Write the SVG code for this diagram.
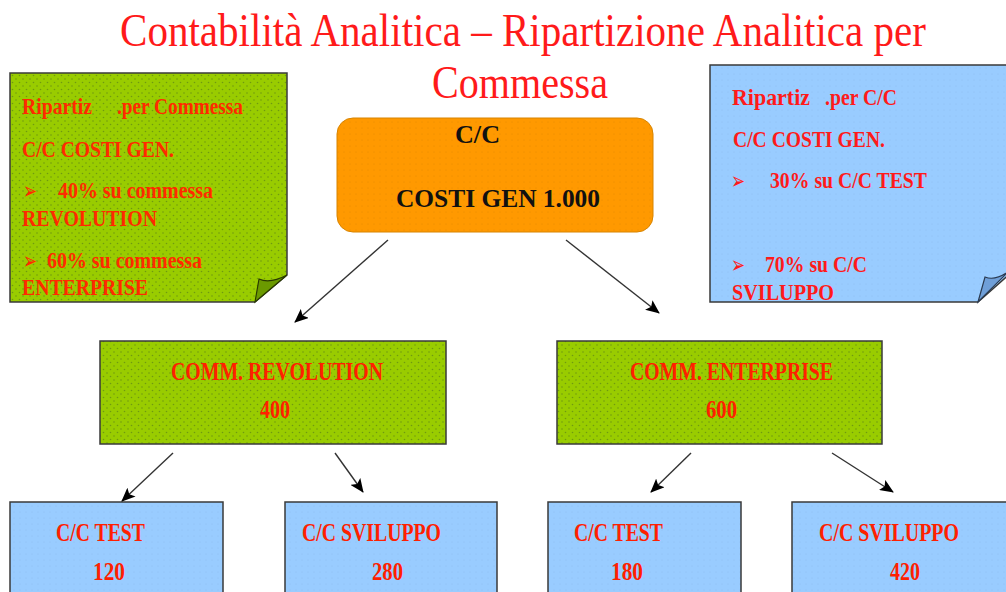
<svg xmlns="http://www.w3.org/2000/svg" width="1006" height="592" viewBox="0 0 1006 592">
<style>
.t{font-family:"Liberation Serif","Times New Roman",serif;}
.title{font-size:38px;fill:#ff1a1a;}
.red{font-size:24px;fill:#ff2a00;font-weight:bold;}
.redb{font-size:24px;fill:#ff1a1a;font-weight:bold;}
.lbl{font-size:25px;fill:#ff2000;font-weight:bold;}
.blk{font-size:26px;fill:#111;font-weight:bold;}
.bul{font-family:"DejaVu Sans",sans-serif;font-size:24px;}
.edge{stroke:#333;stroke-width:1.4;fill:none;marker-end:url(#ah);}
.box{stroke:#3a3a3a;stroke-width:1.5;}
</style>
<defs>
<pattern id="dots" width="7" height="7" patternUnits="userSpaceOnUse">
<rect width="7" height="7" fill="#99cc00"/>
<circle cx="2" cy="2" r="0.8" fill="#6f9a10"/>
<circle cx="5.5" cy="5.5" r="0.8" fill="#6f9a10"/>
</pattern>
<pattern id="bdots" width="6" height="6" patternUnits="userSpaceOnUse">
<rect width="6" height="6" fill="#99ccff"/>
<circle cx="2" cy="2" r="0.6" fill="#8fbdf0"/>
</pattern>
<pattern id="odots" width="6" height="6" patternUnits="userSpaceOnUse">
<rect width="6" height="6" fill="#ff9900"/>
<circle cx="2" cy="2" r="0.6" fill="#e88a00"/>
</pattern>
<marker id="ah" markerWidth="14" markerHeight="12" refX="13" refY="6" orient="auto" markerUnits="userSpaceOnUse">
<path d="M0,0 L14,6 L0,12 L3,6 Z" fill="#000"/>
</marker>
</defs>
<rect width="1006" height="592" fill="#fff"/>

<g id="title">
<text class="t title" transform="translate(120,46) scale(1,1.22)" x="0" y="0" textLength="806" lengthAdjust="spacingAndGlyphs">Contabilità Analitica  – Ripartizione Analitica per</text>
<text class="t title" transform="translate(432,98) scale(1,1.22)" x="0" y="0" textLength="176" lengthAdjust="spacingAndGlyphs">Commessa</text>
</g>

<g id="note-commessa">
<path class="box" d="M10,73 H287 V275 L255,302 H10 Z" fill="url(#dots)"/>
<path d="M255,302 L259,279 Q270,284 287,275 Z" fill="#6b9a00" stroke="#2a3a00" stroke-width="1.2"/>
<text class="t red" x="22" y="114" textLength="70" lengthAdjust="spacingAndGlyphs">Ripartiz</text>
<text class="t red" x="117" y="114" textLength="126" lengthAdjust="spacingAndGlyphs">.per Commessa</text>
<text class="t red" x="22" y="157" textLength="152" lengthAdjust="spacingAndGlyphs">C/C COSTI GEN.</text>
<text class="bul" x="23" y="199" fill="#ff2a00" textLength="14" lengthAdjust="spacingAndGlyphs">➢</text>
<text class="t red" x="58" y="198" textLength="155" lengthAdjust="spacingAndGlyphs">40% su commessa</text>
<text class="t red" x="22" y="226" textLength="135" lengthAdjust="spacingAndGlyphs">REVOLUTION</text>
<text class="bul" x="23" y="269" fill="#ff2a00" textLength="14" lengthAdjust="spacingAndGlyphs">➢</text>
<text class="t red" x="47" y="268" textLength="155" lengthAdjust="spacingAndGlyphs">60% su commessa</text>
<text class="t red" x="22" y="295" textLength="126" lengthAdjust="spacingAndGlyphs">ENTERPRISE</text>
</g>

<g id="note-cc">
<path class="box" d="M710,65 H1012 V272 L978,302 H710 Z" fill="url(#bdots)"/>
<path d="M978,302 L985,277 Q995,281 1008,272 Z" fill="#6f9fd8" stroke="#2a3a50" stroke-width="1.2"/>
<text class="t redb" x="732" y="105" textLength="78" lengthAdjust="spacingAndGlyphs">Ripartiz</text>
<text class="t redb" x="825" y="105" textLength="72" lengthAdjust="spacingAndGlyphs">.per C/C</text>
<text class="t redb" x="733" y="147" textLength="152" lengthAdjust="spacingAndGlyphs">C/C COSTI GEN.</text>
<text class="bul" x="731" y="189" fill="#ff1a1a" textLength="14" lengthAdjust="spacingAndGlyphs">➢</text>
<text class="t redb" x="770" y="188" textLength="157" lengthAdjust="spacingAndGlyphs">30% su C/C TEST</text>
<text class="bul" x="731" y="273" fill="#ff1a1a" textLength="14" lengthAdjust="spacingAndGlyphs">➢</text>
<text class="t redb" x="765" y="272" textLength="102" lengthAdjust="spacingAndGlyphs">70% su C/C</text>
<text class="t redb" x="732" y="300" textLength="102" lengthAdjust="spacingAndGlyphs">SVILUPPO</text>
</g>

<g id="cc-costi-gen">
<rect x="337" y="118" width="316" height="114" rx="16" fill="url(#odots)" stroke="#d88400" stroke-width="1"/>
<text class="t blk" x="455" y="143" textLength="45" lengthAdjust="spacingAndGlyphs">C/C</text>
<text class="t blk" x="396" y="207" textLength="204" lengthAdjust="spacingAndGlyphs">COSTI GEN 1.000</text>
</g>

<g id="comm-revolution">
<rect class="box" x="100" y="341" width="346" height="103" fill="url(#dots)"/>
<text class="t lbl" x="171" y="380" textLength="212" lengthAdjust="spacingAndGlyphs">COMM. REVOLUTION</text>
<text class="t lbl" x="260" y="418" textLength="30" lengthAdjust="spacingAndGlyphs">400</text>
</g>

<g id="comm-enterprise">
<rect class="box" x="557" y="341" width="325" height="103" fill="url(#dots)"/>
<text class="t lbl" x="630" y="380" textLength="203" lengthAdjust="spacingAndGlyphs">COMM. ENTERPRISE</text>
<text class="t lbl" x="706" y="418" textLength="31" lengthAdjust="spacingAndGlyphs">600</text>
</g>

<g id="cc-test-rev">
<rect class="box" x="10" y="502" width="213" height="100" fill="url(#bdots)"/>
<text class="t lbl" x="56" y="541" textLength="89" lengthAdjust="spacingAndGlyphs">C/C TEST</text>
<text class="t lbl" x="93" y="580" textLength="32" lengthAdjust="spacingAndGlyphs">120</text>
</g>

<g id="cc-sviluppo-rev">
<rect class="box" x="285" y="502" width="212" height="100" fill="url(#bdots)"/>
<text class="t lbl" x="302" y="541" textLength="139" lengthAdjust="spacingAndGlyphs">C/C SVILUPPO</text>
<text class="t lbl" x="372" y="580" textLength="31" lengthAdjust="spacingAndGlyphs">280</text>
</g>

<g id="cc-test-ent">
<rect class="box" x="548" y="502" width="193" height="100" fill="url(#bdots)"/>
<text class="t lbl" x="574" y="541" textLength="89" lengthAdjust="spacingAndGlyphs">C/C TEST</text>
<text class="t lbl" x="611" y="580" textLength="32" lengthAdjust="spacingAndGlyphs">180</text>
</g>

<g id="cc-sviluppo-ent">
<rect class="box" x="792" y="502" width="220" height="100" fill="url(#bdots)"/>
<text class="t lbl" x="819" y="541" textLength="140" lengthAdjust="spacingAndGlyphs">C/C SVILUPPO</text>
<text class="t lbl" x="890" y="580" textLength="30" lengthAdjust="spacingAndGlyphs">420</text>
</g>

<g id="connectors">
<line class="edge" x1="388" y1="240" x2="295" y2="322"/>
<line class="edge" x1="566" y1="240" x2="659" y2="313"/>
<line class="edge" x1="173" y1="453" x2="122" y2="501"/>
<line class="edge" x1="335" y1="453" x2="363" y2="492"/>
<line class="edge" x1="691" y1="453" x2="651" y2="492"/>
<line class="edge" x1="832" y1="453" x2="893" y2="492"/>
</g>
</svg>
